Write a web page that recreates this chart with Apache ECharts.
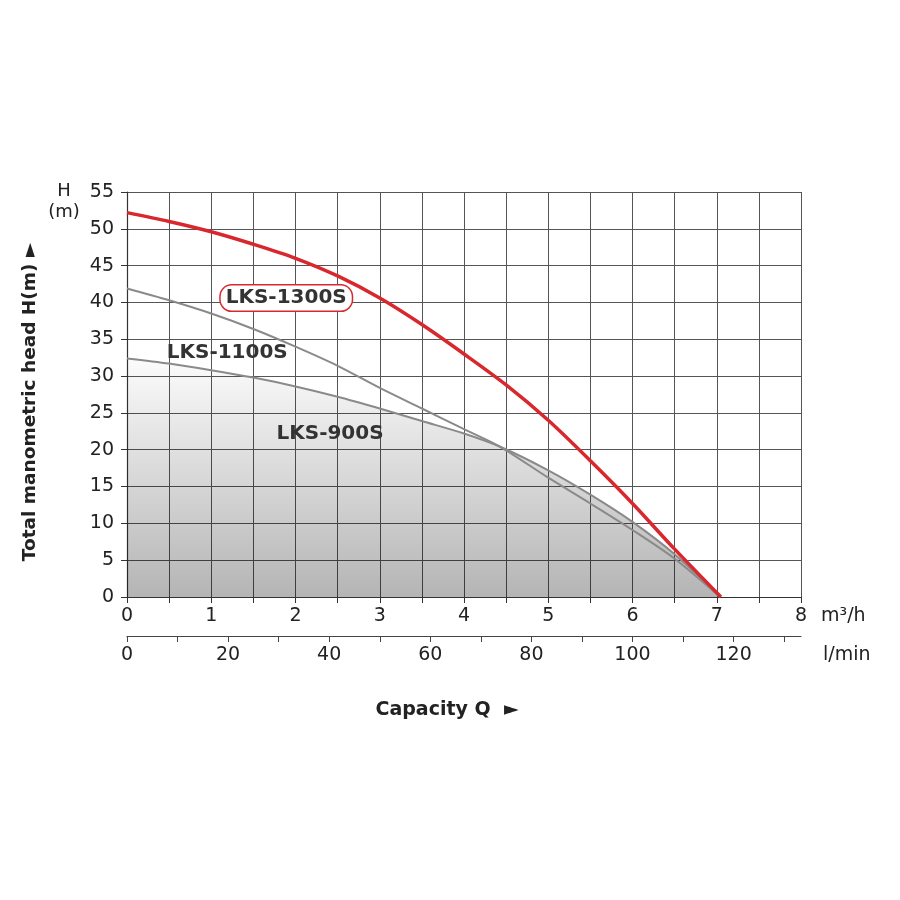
<!DOCTYPE html>
<html>
<head>
<meta charset="utf-8">
<script src="https://cdn.jsdelivr.net/npm/echarts@6/dist/echarts.min.js"></script>
<style>
  html, body { margin: 0; padding: 0; background: #fff; }
  #main { width: 900px; height: 900px; }
</style>
</head>
<body>
<div id="main"></div>
<script>
// capacity Q (m3/h) and head H (m)
var q1300 = [0, 0.5, 1, 1.5, 2, 2.5, 3, 3.5, 4, 4.5, 5, 5.5, 6, 6.5, 7.05];
var h1300 = [52.2, 51.0, 49.6, 47.9, 46.0, 43.6, 40.6, 37.0, 33.0, 28.8, 24.0, 18.5, 12.7, 6.5, 0];

var q1100 = [0, 0.5, 1, 1.5, 2, 2.5, 3, 3.5, 4, 4.43, 5, 5.5, 6, 6.5, 7.04];
var h1100 = [41.9, 40.3, 38.5, 36.4, 34.0, 31.4, 28.4, 25.6, 22.8, 20.4, 16.2, 12.7, 9.1, 5.2, 0];

var q900 = [0, 0.5, 1, 1.5, 2, 2.5, 3, 3.5, 4, 4.43, 5, 5.5, 6, 6.5, 7.04];
var h900 = [32.4, 31.7, 30.8, 29.8, 28.6, 27.2, 25.6, 23.9, 22.2, 20.4, 17.2, 13.9, 10.2, 5.8, 0];

var seriesNames = ['LKS-1300S', 'LKS-1100S', 'LKS-900S'];

function pairs(xs, ys) {
    return xs.map(function (x, i) { return [x, ys[i]]; });
}

var FONT = 'DejaVu Sans';
var main = echarts.init(document.getElementById('main'));

var nameLabel = {
    show: true,
    position: 'inside',
    formatter: '{b}',
    fontFamily: FONT,
    fontSize: 20,
    fontWeight: 'bold',
    color: '#333'
};

var option = {
    backgroundColor: '#fff',
    animation: false,
    grid: {
        left: 127,
        right: 99,
        top: 192,
        bottom: 303
    },
    xAxis: [
        {
            type: 'value',
            min: 0,
            max: 8,
            interval: 0.5,
            position: 'bottom',
            name: 'm³/h',
            nameLocation: 'end',
            nameGap: 20,
            nameTextStyle: {
                fontFamily: FONT, fontSize: 19, color: '#222',
                verticalAlign: 'top', align: 'left', padding: [10, 0, 0, 0]
            },
            axisLine: { lineStyle: { color: '#333', width: 1.2 } },
            axisTick: { show: true, length: 6, lineStyle: { color: '#333' } },
            axisLabel: {
                margin: 10,
                fontFamily: FONT, fontSize: 19, color: '#222',
                formatter: function (v) { return v % 1 === 0 ? v : ''; }
            },
            splitLine: { show: true, lineStyle: { color: '#555', width: 1 } }
        },
        {
            type: 'value',
            min: 0,
            max: 400 / 3,
            interval: 10,
            position: 'bottom',
            offset: 39,
            name: 'l/min',
            nameLocation: 'end',
            nameGap: 22,
            nameTextStyle: {
                fontFamily: FONT, fontSize: 19, color: '#222',
                verticalAlign: 'top', align: 'left', padding: [10, 0, 0, 0]
            },
            axisLine: { lineStyle: { color: '#444', width: 1.2 } },
            axisTick: { show: true, length: 6, lineStyle: { color: '#444' } },
            axisLabel: {
                margin: 10,
                fontFamily: FONT, fontSize: 19, color: '#222',
                showMaxLabel: false,
                formatter: function (v) { return v % 20 === 0 ? v : ''; }
            },
            splitLine: { show: false }
        }
    ],
    yAxis: {
        type: 'value',
        min: 0,
        max: 55,
        interval: 5,
        axisLine: { show: true, lineStyle: { color: '#333', width: 1.2 } },
        axisTick: { show: true, length: 6, lineStyle: { color: '#333' } },
        axisLabel: { margin: 13, fontFamily: FONT, fontSize: 19, color: '#222' },
        splitLine: { show: true, lineStyle: { color: '#555', width: 1 } }
    },
    graphic: [
        {
            type: 'text',
            x: 30,
            y: 402,
            rotation: Math.PI / 2,
            style: {
                text: 'Total manometric head H(m) ►',
                fontFamily: FONT, fontSize: 18.5, fontWeight: 'bold', fill: '#222',
                align: 'center', verticalAlign: 'middle'
            }
        },
        {
            type: 'text',
            x: 64,
            y: 202,
            style: {
                text: 'H\n(m)',
                fontFamily: FONT, fontSize: 18, fill: '#222', lineHeight: 21,
                align: 'center', verticalAlign: 'middle'
            }
        },
        {
            type: 'text',
            x: 447,
            y: 710,
            style: {
                text: 'Capacity Q  ►',
                fontFamily: FONT, fontSize: 19, fontWeight: 'bold', fill: '#222',
                align: 'center', verticalAlign: 'middle'
            }
        }
    ],
    series: [
        {
            name: seriesNames[2],
            type: 'line',
            smooth: 0.3,
            symbol: 'none',
            data: pairs(q900, h900),
            lineStyle: { color: '#8a8a8a', width: 2 },
            areaStyle: {
                color: new echarts.graphic.LinearGradient(0, 0, 0, 1, [
                    { offset: 0, color: 'rgba(0,0,0,0.02)' },
                    { offset: 1, color: 'rgba(0,0,0,0.42)' }
                ])
            },
            markPoint: {
                symbol: 'circle',
                symbolSize: 0,
                label: nameLabel,
                data: [{ name: seriesNames[2], coord: [2.41, 22.1] }]
            },
            z: 2
        },
        {
            name: seriesNames[1],
            type: 'line',
            smooth: 0.3,
            symbol: 'none',
            data: pairs(q1100, h1100),
            lineStyle: { color: '#8a8a8a', width: 2 },
            markPoint: {
                symbol: 'circle',
                symbolSize: 0,
                label: nameLabel,
                data: [{ name: seriesNames[1], coord: [1.19, 33.1] }]
            },
            z: 3
        },
        {
            name: seriesNames[0],
            type: 'line',
            smooth: 0.3,
            symbol: 'none',
            data: pairs(q1300, h1300),
            lineStyle: { color: '#d9272e', width: 3.5 },
            markPoint: {
                symbol: 'circle',
                symbolSize: 0,
                label: Object.assign({}, nameLabel, {
                    backgroundColor: '#fff',
                    borderColor: '#d9272e',
                    borderWidth: 1.5,
                    borderRadius: 11,
                    padding: [3, 5, 2, 5]
                }),
                data: [{ name: seriesNames[0], coord: [1.89, 40.6] }]
            },
            z: 4
        }
    ]
};
main.setOption(option);
</script>
</body>
</html>
